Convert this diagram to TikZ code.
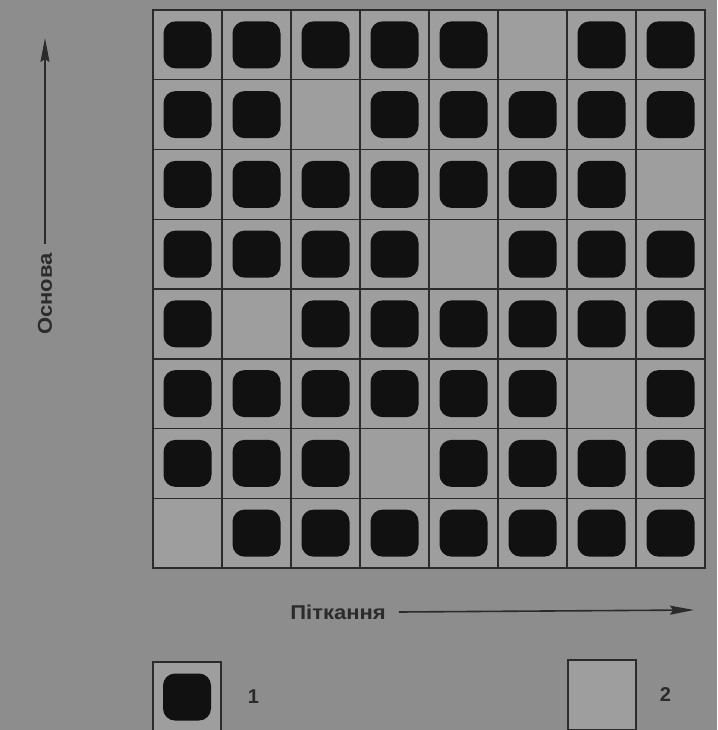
\documentclass[tikz,border=0pt]{standalone}
\usepackage{fontspec}
\setmainfont{Liberation Sans}
\usetikzlibrary{positioning,arrows.meta}
\definecolor{paper}{HTML}{8D8D8D}
\definecolor{cellgray}{HTML}{9E9E9E}
\definecolor{ink}{HTML}{111111}
\definecolor{rule}{HTML}{2B2B2B}

\begin{document}
\begin{tikzpicture}[x=1pt, y=-1pt,
  >={Stealth[length=24pt,width=9pt,inset=3pt]}, font=\bfseries\fontsize{20}{22}\selectfont,
  cell/.style={rectangle, draw=rule, line width=1.5pt, fill=cellgray, inner sep=0pt,
               minimum width=69pt, minimum height=69.75pt},
  blob/.style={rectangle, rounded corners=12pt, fill=ink, inner sep=0pt,
               minimum width=48pt, minimum height=47pt},
  key/.style={rectangle, draw=rule, line width=1.5pt, fill=cellgray, inner sep=0pt,
              minimum width=68pt, minimum height=70pt},
  e/.style={->, line width=1.6pt, draw=rule},
  lbl/.style={inner sep=1pt, text=rule},
]
\fill[paper] (0,0) rectangle (717,730);
\useasboundingbox (0,0) rectangle (717,730);

% weave grid: 8 x 8 cells
\foreach \r in {1,...,8}
  \foreach \c in {1,...,8}
    \node[cell] (c\r\c) at ({153+69*(\c-0.5)},{10+69.75*(\r-0.5)}) {};
% raised warp points, one gap per row
\foreach \r/\gap in {1/6,2/3,3/8,4/5,5/2,6/7,7/4,8/1}
  \foreach \c in {1,...,8}
    {\ifnum\c=\gap\else \node[blob] (b\r\c) at (c\r\c) {};\fi}

% axes
\node[lbl, rotate=90] (osnova) at (45,294) {\scalebox{1.1}[1]{Основа}};
\coordinate (otop) at (45,38);
\draw[e] (osnova.east) ++(0,-8) -- (otop);
\node[lbl] (pitk) at (338,612) {\scalebox{1.1}[1]{Піткання}};
\coordinate (pend) at (694,610);
\draw[e] ([xshift=12pt]pitk.east) -- (pend);

% legend
\node[key] (k1) at (187,697) {};
\node[blob] (kb1) at (k1) {};
\node[lbl, right=25pt of k1] (n1) {1};
\node[key] (k2) at (602,695) {};
\node[lbl, right=22pt of k2] (n2) {2};
\end{tikzpicture}
\end{document}
